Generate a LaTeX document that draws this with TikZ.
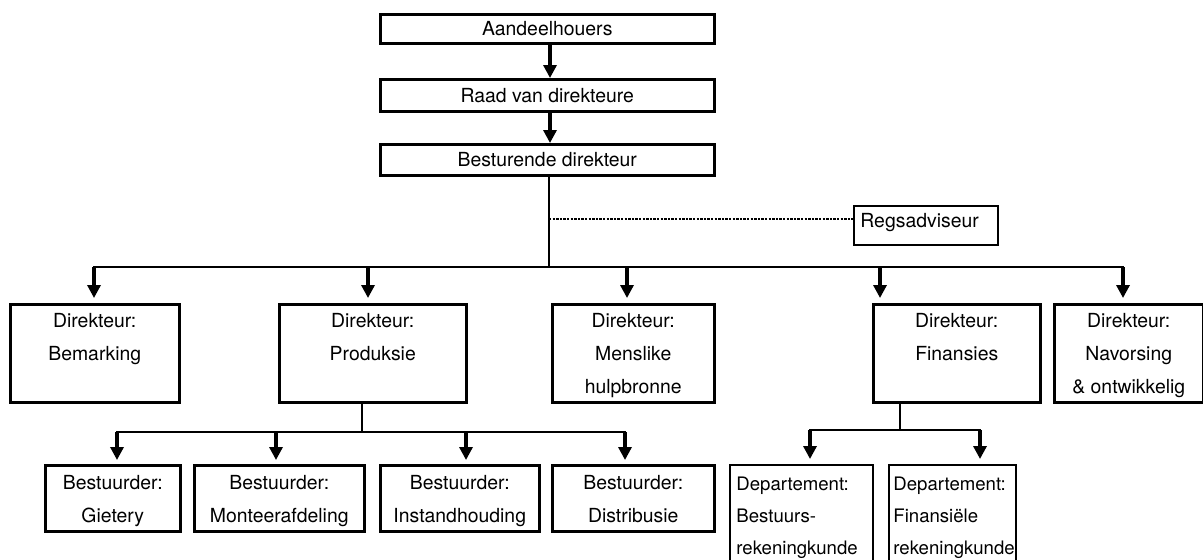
\documentclass[tikz,border=0pt]{standalone}
\usepackage{fontspec}
\setmainfont{TeX Gyre Heros}
\usetikzlibrary{arrows.meta}
\begin{document}
\begin{tikzpicture}[x=0.5pt,y=-0.5pt,
  box/.style={draw, line width=1.25pt, inner sep=0pt, anchor=north west},
  txt/.style={inner sep=0pt, align=center, anchor=north,
    font=\fontsize{9.7}{16.6}\selectfont},
  ltxt/.style={inner sep=0pt, align=left, anchor=north west,
    font=\fontsize{9.3}{16}\selectfont},
  bus/.style={line width=1pt, line cap=rect},
  stem/.style={line width=0.8pt},
  arr/.style={line width=1.6pt, -{Triangle[width=6.5pt,length=6.5pt]}},
  dotline/.style={line width=0.7pt, dash pattern=on 1.2pt off 0.6pt}]
\useasboundingbox (0,0) rectangle (1203,559);

% top chain
\node[box, minimum width=167pt, minimum height=14.5pt] (ah) at (379,13) {};
\node[txt, anchor=center] at (ah.center) {Aandeelhouers};
\node[box, minimum width=167pt, minimum height=16pt] (rvd) at (379,78) {};
\node[txt, anchor=center] at (rvd.center) {Raad van direkteure};
\node[box, minimum width=167pt, minimum height=15.5pt] (bd) at (379,143) {};
\node[txt, anchor=center] at (bd.center) {Besturende direkteur};

\coordinate (t1) at (550,0);
\draw[arr] (t1 |- ah.south) -- (t1 |- rvd.north);
\draw[arr] (t1 |- rvd.south) -- (t1 |- bd.north);

% legal adviser
\node[box, line width=0.9pt, minimum width=72pt, minimum height=19.5pt] (reg) at (853,205) {};
\node[inner sep=0pt, anchor=base west, font=\fontsize{9.7}{12}\selectfont] at (860,227) {Regsadviseur};

% directors
\node[box, minimum width=84.5pt, minimum height=49pt] (bem) at (9,303) {};
\node[txt] at (bem.north |- 0,313) {Direkteur:\\Bemarking};
\node[box, minimum width=93.5pt, minimum height=49pt] (prod) at (278,303) {};
\node[txt] at (prod.north |- 0,313) {Direkteur:\\Produksie};
\node[box, minimum width=81pt, minimum height=49pt] (mens) at (551,303) {};
\node[txt] at (mens.north |- 0,313) {Direkteur:\\Menslike\\hulpbronne};
\node[box, minimum width=83.5pt, minimum height=49pt] (fin) at (872,303) {};
\node[txt] at (fin.north |- 0,313) {Direkteur:\\Finansies};
\node[box, minimum width=74.5pt, minimum height=49pt] (nav) at (1053,303) {};
\node[txt] at (nav.north |- 0,313) {Direkteur:\\Navorsing\\\& ontwikkelig};

% main bus
\coordinate (m0) at (549,267);
\coordinate (mr) at (549,219);
\coordinate (b1) at (94,267);
\coordinate (b2) at (368,267);
\coordinate (b3) at (627,267);
\coordinate (b4) at (880,267);
\coordinate (b5) at (1123,267);
\draw[stem] (m0 |- bd.south) -- (m0);
\draw[dotline] (mr) -- (mr -| reg.west);
\draw[bus] (b1) -- (b5);
\draw[arr, shorten >=2.5pt] (b1) -- (b1 |- bem.north);
\draw[arr, shorten >=2.5pt] (b2) -- (b2 |- prod.north);
\draw[arr, shorten >=2.5pt] (b3) -- (b3 |- mens.north);
\draw[arr, shorten >=2.5pt] (b4) -- (b4 |- fin.north);
\draw[arr, shorten >=2.5pt] (b5) -- (b5 |- nav.north);

% production managers
\node[box, minimum width=67.5pt, minimum height=33pt] (gie) at (44,464) {};
\node[txt] at (gie.north |- 0,475) {Bestuurder:\\Gietery};
\node[box, minimum width=85pt, minimum height=33pt] (mon) at (193,464) {};
\node[txt] at (mon.north |- 0,475) {Bestuurder:\\Monteerafdeling};
\node[box, minimum width=79.5pt, minimum height=33pt] (ins) at (379,464) {};
\node[txt] at (ins.north |- 0,475) {Bestuurder:\\Instandhouding};
\node[box, minimum width=81pt, minimum height=33pt] (dis) at (551,464) {};
\node[txt] at (dis.north |- 0,475) {Bestuurder:\\Distribusie};

\coordinate (p0) at (362,432);
\coordinate (p1) at (117,432);
\coordinate (p2) at (276,432);
\coordinate (p3) at (466,432);
\coordinate (p4) at (625,432);
\draw[stem] (p0 |- prod.south) -- (p0);
\draw[bus] (p1) -- (p4);
\draw[arr, shorten >=2pt] (p1) -- (p1 |- gie.north);
\draw[arr, shorten >=2pt] (p2) -- (p2 |- mon.north);
\draw[arr, shorten >=2pt] (p3) -- (p3 |- ins.north);
\draw[arr, shorten >=2pt] (p4) -- (p4 |- dis.north);

% finance departments (boxes run off the lower edge)
\node[inner sep=0pt, anchor=north west, minimum width=71pt, minimum height=47pt] (dep1) at (730,465) {};
\draw[line width=1.1pt] (dep1.south west) -- (dep1.north west) -- (dep1.north east) -- (dep1.south east);
\node[ltxt] at (736,477) {Departement:\\Bestuurs-\\rekeningkunde};
\node[inner sep=0pt, anchor=north west, minimum width=63pt, minimum height=47pt] (dep2) at (889,465) {};
\draw[line width=1.1pt] (dep2.south west) -- (dep2.north west) -- (dep2.north east) -- (dep2.south east);
\node[ltxt] at (893,477) {Departement:\\Finansiële\\rekeningkunde};

\coordinate (f0) at (900,430);
\coordinate (f1) at (810,430);
\coordinate (f2) at (980,430);
\draw[stem] (f0 |- fin.south) -- (f0);
\draw[bus] (f1) -- (f2);
\draw[arr, shorten >=3pt] (f1) -- (f1 |- dep1.north);
\draw[arr, shorten >=3pt] (f2) -- (f2 |- dep2.north);
\end{tikzpicture}
\end{document}
